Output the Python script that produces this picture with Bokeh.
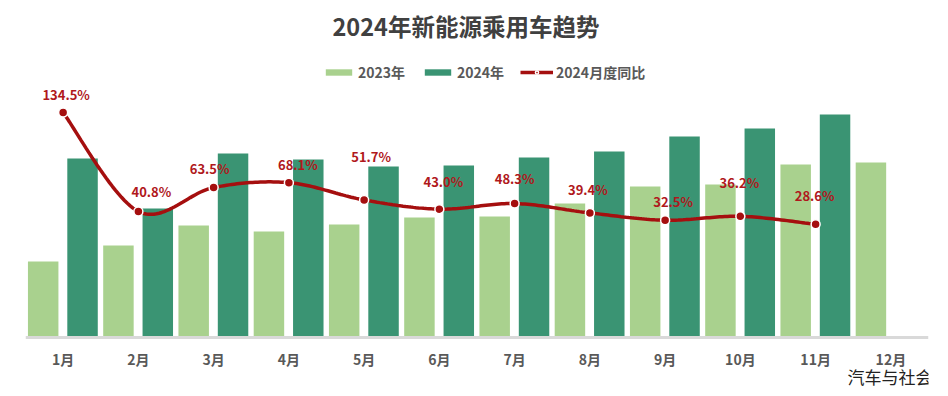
import numpy as np
from bokeh.plotting import figure
from bokeh.models import ColumnDataSource, FactorRange, Range1d, Legend, LegendItem, Label, Span
from bokeh.transform import dodge
from bokeh.embed import file_html
from bokeh.resources import INLINE
from bokeh.core.properties import value

# ---------------- data ----------------
months = ["1月", "2月", "3月", "4月", "5月", "6月", "7月", "8月", "9月", "10月", "11月", "12月"]
sales_2023 = [44.7, 54.1, 65.9, 62.4, 66.5, 70.6, 71.2, 78.8, 88.8, 90.0, 101.8, 102.9]
sales_2024 = [105.3, 75.9, 108.2, 104.7, 100.6, 101.2, 105.9, 109.4, 118.2, 122.9, 131.2]
yoy_2024 = [134.5, 40.8, 63.5, 68.1, 51.7, 43.0, 48.3, 39.4, 32.5, 36.2, 28.6]
yoy_labels = ["134.5%", "40.8%", "63.5%", "68.1%", "51.7%", "43.0%", "48.3%", "39.4%", "32.5%", "36.2%", "28.6%"]

# label placement (pixel offsets from each point), style only
label_dx = [3, 13, -4, 9, 7, 4, 0, -2, 8, -1, -1]
label_dy = [18, 20, 19, 18, 43, 28, 25, 23, 19, 34, 29]

# ---------------- styles ----------------
C23 = "#A9D18E"
C24 = "#3A9473"
CLINE = "#A50F0F"
CLABEL = "#B0181C"
FONT = "Noto Sans CJK SC"

W, H = 940, 388
BORDER_TOP = 48
FRAME_H = H - BORDER_TOP
BASE_PX = 51               # baseline height above bottom of frame
TOP_PX = FRAME_H - BASE_PX # plot height above baseline
PX_PER_UNIT = 1.7          # bar scale
YOY_PX0, YOY_PX_PER = 83.0, 1.055  # yoy: px above baseline = 83 + 1.055*v

yoy_zero = -YOY_PX0 / YOY_PX_PER
p = figure(width=W, height=H,
           x_range=FactorRange(factors=months, range_padding=0),
           y_range=Range1d(-BASE_PX / PX_PER_UNIT, TOP_PX / PX_PER_UNIT),
           output_backend="svg", toolbar_location=None,
           x_axis_location=None, y_axis_location=None,
           min_border_left=25, min_border_right=12,
           min_border_top=BORDER_TOP, min_border_bottom=0,
           outline_line_color=None, background_fill_color="white",
           border_fill_color="white")
p.extra_y_ranges = {"yoy": Range1d(yoy_zero - BASE_PX / YOY_PX_PER, yoy_zero + TOP_PX / YOY_PX_PER)}
p.xgrid.visible = False
p.ygrid.visible = False

src23 = ColumnDataSource(dict(m=months, v=sales_2023))
src24 = ColumnDataSource(dict(m=months[:len(sales_2024)], v=sales_2024))

r23 = p.vbar(x=dodge("m", -0.265, range=p.x_range), top="v", bottom=0, width=0.405, source=src23,
             fill_color=C23, line_color=None)
r24 = p.vbar(x=dodge("m", 0.258, range=p.x_range), top="v", bottom=0, width=0.405, source=src24,
             fill_color=C24, line_color=None)

# category axis: baseline + labels
p.add_layout(Span(location=0, dimension="width", line_color="#D9D9D9", line_width=3))
msrc = ColumnDataSource(dict(m=months, y=[0] * len(months)))
p.text("m", "y", text="m", source=msrc, y_offset=21,
       text_align="center", text_baseline="middle",
       text_font=value(FONT), text_font_style="bold",
       text_font_size="14px", text_color="#595959")

# smooth line (Excel-style smoothing: cubic Bezier with Catmull-Rom control points)
xs = np.arange(len(yoy_2024)) + 0.5
P = np.column_stack([xs, np.array(yoy_2024, dtype=float)])
ext = np.vstack([P[0], P, P[-1]])
cx, cy = [], []
t = np.linspace(0, 1, 30)[:, None]
for i in range(len(P) - 1):
    p0, p1, p2, p3 = ext[i], ext[i + 1], ext[i + 2], ext[i + 3]
    c1 = p1 + (p2 - p0) / 6.0
    c2 = p2 - (p3 - p1) / 6.0
    seg = (1 - t) ** 3 * p1 + 3 * (1 - t) ** 2 * t * c1 + 3 * (1 - t) * t ** 2 * c2 + t ** 3 * p2
    cx.extend(seg[:, 0]); cy.extend(seg[:, 1])

rline = p.line(cx, cy, y_range_name="yoy", line_color=CLINE, line_width=3.5)
psrc = ColumnDataSource(dict(x=xs, y=yoy_2024, lab=yoy_labels,
                             dx=label_dx, dy=[-d for d in label_dy]))
rpts = p.scatter("x", "y", source=psrc, y_range_name="yoy", size=9,
                 fill_color=CLINE, line_color="white", line_width=1.5)
p.text("x", "y", text="lab", source=psrc, y_range_name="yoy",
       x_offset="dx", y_offset="dy",
       text_align="center", text_baseline="middle",
       text_font=value(FONT), text_font_style="bold",
       text_font_size="13px", text_color=CLABEL)

# title
p.title.text = "2024年新能源乘用车趋势"
p.title.align = "left"
p.title.offset = 307
p.title.text_font = FONT
p.title.text_font_style = "bold"
p.title.text_font_size = "23.5px"
p.title.text_color = "#404040"
p.title.standoff = 12

# legend (location measured from the frame's bottom-left corner)
legend = Legend(items=[
    LegendItem(label="2023年", renderers=[r23]),
    LegendItem(label="2024年", renderers=[r24]),
    LegendItem(label="2024月度同比", renderers=[rline, rpts]),
], orientation="horizontal", location=(297, H - 82),
    glyph_width=33, glyph_height=8, label_height=16, label_standoff=3,
    spacing=16, padding=0, margin=0,
    border_line_color=None, background_fill_alpha=0,
    label_text_font=FONT, label_text_font_style="bold",
    label_text_font_size="14px", label_text_color="#595959")
p.add_layout(legend, "center")

# watermark
p.add_layout(Label(x=822, y=12, x_units="screen", y_units="screen",
                   text="汽车与社会", text_font=FONT, text_font_size="17px",
                   text_color="#222222", text_baseline="middle", text_align="left"))

open("out.html", "w").write(file_html(p, INLINE))
